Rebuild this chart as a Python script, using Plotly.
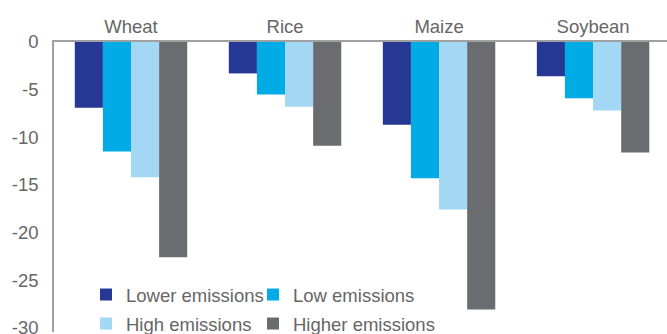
import plotly.graph_objects as go

crops = ["Wheat", "Rice", "Maize", "Soybean"]

lower_emissions = [-6.9, -3.3, -8.7, -3.6]
low_emissions = [-11.5, -5.5, -14.3, -5.9]
high_emissions = [-14.2, -6.8, -17.6, -7.2]
higher_emissions = [-22.6, -10.9, -28.1, -11.6]

y_ticks = [0, -5, -10, -15, -20, -25, -30]
y_tick_labels = ["0", "-5", "-10", "-15", "-20", "-25", "-30"]

W, H = 667, 334
M_L, M_R, M_T, M_B = 54, 0, 42, 2
plot_w = W - M_L - M_R
plot_h = H - M_T - M_B

def px_x(p):
    return (p - M_L) / plot_w

def px_y(p):
    return (H - M_B - p) / plot_h

# name, values, colour, legend id, legend box left (px), legend row centre (px)
series = [
    ("Lower emissions", lower_emissions, "#263893", "legend", 86, 295),
    ("Low emissions", low_emissions, "#00ABE6", "legend2", 253, 295),
    ("High emissions", high_emissions, "#A2D8F3", "legend3", 86, 324),
    ("Higher emissions", higher_emissions, "#6B6C70", "legend4", 253, 324),
]

FONT_FAMILY = "Liberation Sans, Arial, sans-serif"
TEXT_GREY = "#666666"
FS = 18.5

fig = go.Figure()
legends = {}
for name, vals, color, leg, lx, ly in series:
    fig.add_trace(go.Bar(
        x=crops, y=vals, name=name,
        marker=dict(color=color, line=dict(width=0)),
        legend=leg,
    ))
    legends[leg] = dict(
        x=px_x(lx), y=px_y(ly),
        xanchor="left", yanchor="middle",
        orientation="h",
        font=dict(family=FONT_FAMILY, size=FS, color=TEXT_GREY),
        bgcolor="rgba(255,255,255,0)",
        itemclick=False,
    )

fig.update_layout(
    width=W, height=H,
    margin=dict(l=M_L, r=M_R, t=M_T, b=M_B, autoexpand=False),
    paper_bgcolor="white",
    plot_bgcolor="white",
    barmode="group",
    bargap=0.27,
    bargroupgap=0,
    font=dict(family=FONT_FAMILY, size=FS, color=TEXT_GREY),
    showlegend=True,
    **legends,
    xaxis=dict(
        side="top",
        range=[-0.5, 3.48],
        automargin=False,
        showline=True, linecolor="#A0A0A0", linewidth=1.5,
        ticks="", showgrid=False, zeroline=False,
        tickfont=dict(size=FS, color=TEXT_GREY),
    ),
    yaxis=dict(
        range=[-30.45, 0],
        automargin=False,
        tickvals=y_ticks, ticktext=y_tick_labels,
        ticklabeloverflow="allow",
        showline=True, linecolor="#A0A0A0", linewidth=1.5,
        ticks="", showgrid=False, zeroline=False,
        tickfont=dict(size=FS, color=TEXT_GREY),
        ticklabelstandoff=10,
    ),
)

fig.write_html("out.html")
